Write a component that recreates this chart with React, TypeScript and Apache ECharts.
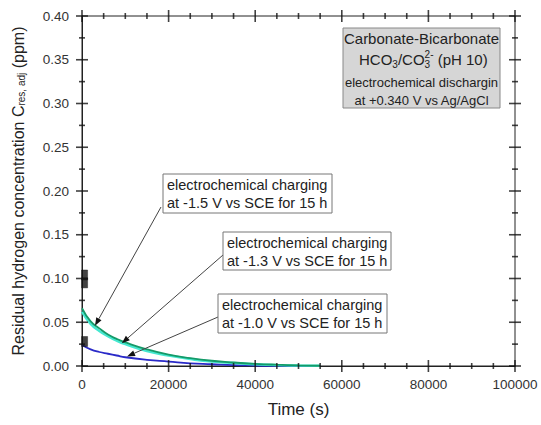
import React, { useEffect, useRef } from "react";
import * as echarts from "echarts";

const FONT = "'Liberation Sans', Arial, Helvetica, sans-serif";

// time (s)
const times = [0, 2000, 4000, 6000, 8000, 10000, 15000, 20000, 25000, 30000, 35000, 40000, 45000, 50000, 55000];
// -1.5 V vs SCE (green)
const c15 = [0.066, 0.051, 0.043, 0.036, 0.031, 0.027, 0.019, 0.013, 0.009, 0.006, 0.004, 0.0025, 0.0015, 0.0008, 0.0003];
// -1.3 V vs SCE (cyan)
const c13 = [0.062, 0.048, 0.040, 0.034, 0.029, 0.025, 0.017, 0.012, 0.008, 0.005, 0.0035, 0.002, 0.001, 0.0005, 0.0002];
// -1.0 V vs SCE (blue)
const c10 = [0.024, 0.019, 0.016, 0.014, 0.012, 0.010, 0.007, 0.005, 0.003, 0.002, 0.001, 0.0005, 0.0002, 0.0001, 0];
// measured points (black squares)
const measT = [600, 600, 600];
const measC = [0.104, 0.095, 0.028];

// arrow tips (data coords)
const arrowTips: [number, number][] = [
  [3000, 0.046],
  [9200, 0.026],
  [10400, 0.011],
];

const xTicks = { min: 0, max: 100000, interval: 20000 };
const yTicks = { min: 0, max: 0.4, interval: 0.05 };
const xMinorSplit = 4;
const yMinorSplit = 2;

function pair(xs: number[], ys: number[]) {
  return xs.map((x, i) => [x, ys[i]]);
}

function tickValues(min: number, max: number, step: number) {
  const out: number[] = [];
  const n = Math.round((max - min) / step);
  for (let i = 0; i <= n; i++) out.push(min + i * step);
  return out;
}

// tick positions (axis scale values)
const xMajorVals = tickValues(xTicks.min, xTicks.max, xTicks.interval);
const xMinorVals = tickValues(xTicks.min, xTicks.max, xTicks.interval / xMinorSplit).filter(
  (v) => !xMajorVals.some((m) => Math.abs(m - v) < 1e-6)
);
const yMajorVals = tickValues(yTicks.min, yTicks.max, yTicks.interval);
const yMinorVals = tickValues(yTicks.min, yTicks.max, yTicks.interval / yMinorSplit).filter(
  (v) => !yMajorVals.some((m) => Math.abs(m - v) < 1e-9)
);

function tickSeries(data: number[][], size: number[]) {
  return {
    type: "scatter",
    data,
    symbol: "rect",
    symbolSize: size,
    itemStyle: { color: "#111", borderWidth: 0 },
    clip: false,
    silent: true,
    z: 8,
    tooltip: { show: false },
  };
}

export default function App() {
  const ref = useRef<HTMLDivElement>(null);

  useEffect(() => {
    if (!ref.current) return;
    const chart = echarts.init(ref.current, undefined, { renderer: "svg" });
    const xTickPts = (vals: number[]) => [
      ...vals.map((v) => [v, yTicks.min]),
      ...vals.map((v) => [v, yTicks.max]),
    ];
    const yTickPts = (vals: number[]) => [
      ...vals.map((v) => [xTicks.min, v]),
      ...vals.map((v) => [xTicks.max, v]),
    ];
    const option: any = {
      animation: false,
      backgroundColor: "#fff",
      grid: {
        left: 82,
        right: 26,
        top: 16,
        bottom: 59,
        containLabel: false,
        show: true,
        borderColor: "#222",
        borderWidth: 1,
      },
      xAxis: {
        type: "value",
        position: "bottom",
        ...xTicks,
        name: "Time (s)",
        nameLocation: "middle",
        nameGap: 35,
        nameTextStyle: { fontFamily: FONT, fontSize: 17, color: "#222" },
        axisLine: { show: true, onZero: false, lineStyle: { color: "#222", width: 1 } },
        axisTick: { show: false },
        axisLabel: {
          margin: 11,
          fontFamily: FONT,
          fontSize: 13.5,
          color: "#333",
          formatter: (v: number) => String(v),
        },
        splitLine: { show: false },
      },
      yAxis: {
        type: "value",
        position: "left",
        ...yTicks,
        name: "Residual hydrogen concentration C{s|res, adj} (ppm)",
        nameLocation: "middle",
        nameGap: 56,
        nameRotate: 90,
        nameTextStyle: {
          fontFamily: FONT,
          fontSize: 16,
          color: "#222",
          rich: {
            s: { fontFamily: FONT, fontSize: 10, color: "#222", verticalAlign: "bottom", lineHeight: 12, padding: [8, 0, 0, 0] },
          },
        },
        axisLine: { show: true, onZero: false, lineStyle: { color: "#222", width: 1 } },
        axisTick: { show: false },
        axisLabel: {
          margin: 13,
          fontFamily: FONT,
          fontSize: 13.5,
          color: "#333",
          formatter: (v: number) => v.toFixed(2),
        },
        splitLine: { show: false },
      },
      series: [
        tickSeries(xTickPts(xMajorVals), [1.6, 12]),
        tickSeries(xTickPts(xMinorVals), [1.6, 6]),
        tickSeries(yTickPts(yMajorVals), [12, 1.6]),
        tickSeries(yTickPts(yMinorVals), [6, 1.6]),
        {
          type: "line",
          name: "-1.0 V",
          data: pair(times, c10),
          smooth: true,
          showSymbol: false,
          lineStyle: { color: "#2a2ac8", width: 1.8 },
          itemStyle: { color: "#2a2ac8" },
          z: 3,
        },
        {
          type: "line",
          name: "-1.3 V",
          data: pair(times, c13),
          smooth: true,
          showSymbol: false,
          lineStyle: { color: "#45e8d0", width: 2.5 },
          itemStyle: { color: "#45e8d0" },
          z: 3,
        },
        {
          type: "line",
          name: "-1.5 V",
          data: pair(times, c15),
          smooth: true,
          showSymbol: false,
          lineStyle: { color: "#159a68", width: 1.8 },
          itemStyle: { color: "#159a68" },
          z: 4,
        },
        {
          type: "scatter",
          name: "measured",
          data: pair(measT, measC),
          symbol: "rect",
          symbolSize: [6, 10],
          itemStyle: { color: "#111", borderColor: "#111", borderWidth: 0.5 },
          z: 5,
        },
      ],
    };
    chart.setOption(option);

    const toPx = (v: [number, number]) =>
      chart.convertToPixel({ xAxisIndex: 0, yAxisIndex: 0 }, v) as number[];

    const g: any[] = [];
    const starts: [number, number][] = [
      [161, 207],
      [223, 255],
      [218, 317],
    ];
    arrowTips.forEach((tip, i) => {
      const p = toPx(tip);
      const [sx, sy] = starts[i];
      const dx = p[0] - sx;
      const dy = p[1] - sy;
      const len = Math.sqrt(dx * dx + dy * dy);
      const ux = dx / len;
      const uy = dy / len;
      const hl = 8;
      const hw = 3;
      const bx = p[0] - ux * hl;
      const by = p[1] - uy * hl;
      g.push({
        type: "line",
        shape: { x1: sx, y1: sy, x2: bx, y2: by },
        style: { stroke: "#444", lineWidth: 1 },
        z: 20,
      });
      g.push({
        type: "polygon",
        shape: {
          points: [
            [p[0], p[1]],
            [bx - uy * hw, by + ux * hw],
            [bx + uy * hw, by - ux * hw],
          ],
        },
        style: { fill: "#111" },
        z: 20,
      });
    });

    const chargeBox = (x: number, y: number, w: number, h: number, v: string) => {
      g.push({
        type: "rect",
        shape: { x, y, width: w, height: h },
        style: { fill: "#fff", stroke: "#777", lineWidth: 1 },
        z: 30,
      });
      g.push({
        type: "text",
        x: x + 4,
        y: y + 11,
        style: { text: "electrochemical charging", font: `14.5px ${FONT}`, fill: "#222", verticalAlign: "middle" },
        z: 31,
      });
      g.push({
        type: "text",
        x: x + 4,
        y: y + 29,
        style: { text: `at ${v} V vs SCE for 15 h`, font: `14.5px ${FONT}`, fill: "#222", verticalAlign: "middle" },
        z: 31,
      });
    };
    chargeBox(163, 174, 169, 39, "-1.5");
    chargeBox(223, 232, 168, 38, "-1.3");
    chargeBox(218, 294, 169, 39, "-1.0");

    const cx = 421.5;
    const l2x = 359;
    g.push(
      {
        type: "rect",
        shape: { x: 343, y: 28, width: 157, height: 80 },
        style: { fill: "#d6d6d6", stroke: "#888", lineWidth: 1 },
        z: 30,
      },
      {
        type: "text",
        x: cx,
        y: 38,
        style: { text: "Carbonate-Bicarbonate", font: `15px ${FONT}`, fill: "#222", align: "center", verticalAlign: "middle" },
        z: 31,
      },
      { type: "text", x: l2x, y: 59, style: { text: "HCO", font: `15px ${FONT}`, fill: "#222", verticalAlign: "middle" }, z: 31 },
      { type: "text", x: l2x + 33.3, y: 64, style: { text: "3", font: `10px ${FONT}`, fill: "#222", verticalAlign: "middle" }, z: 31 },
      { type: "text", x: l2x + 38.9, y: 59, style: { text: "/CO", font: `15px ${FONT}`, fill: "#222", verticalAlign: "middle" }, z: 31 },
      { type: "text", x: l2x + 65.6, y: 54, style: { text: "2-", font: `10px ${FONT}`, fill: "#222", verticalAlign: "middle" }, z: 31 },
      { type: "text", x: l2x + 65.6, y: 64, style: { text: "3", font: `10px ${FONT}`, fill: "#222", verticalAlign: "middle" }, z: 31 },
      { type: "text", x: l2x + 74.5, y: 59, style: { text: " (pH 10)", font: `15px ${FONT}`, fill: "#222", verticalAlign: "middle" }, z: 31 },
      {
        type: "text",
        x: cx,
        y: 82,
        style: { text: "electrochemical dischargin", font: `13px ${FONT}`, fill: "#222", align: "center", verticalAlign: "middle" },
        z: 31,
      },
      {
        type: "text",
        x: cx,
        y: 100,
        style: { text: "at +0.340 V vs Ag/AgCl", font: `13px ${FONT}`, fill: "#222", align: "center", verticalAlign: "middle" },
        z: 31,
      }
    );

    chart.setOption({ graphic: g });

    return () => chart.dispose();
  }, []);

  return (
    <div
      ref={ref}
      style={{ position: "fixed", left: 0, top: 0, width: 541, height: 425, background: "#fff" }}
    />
  );
}
